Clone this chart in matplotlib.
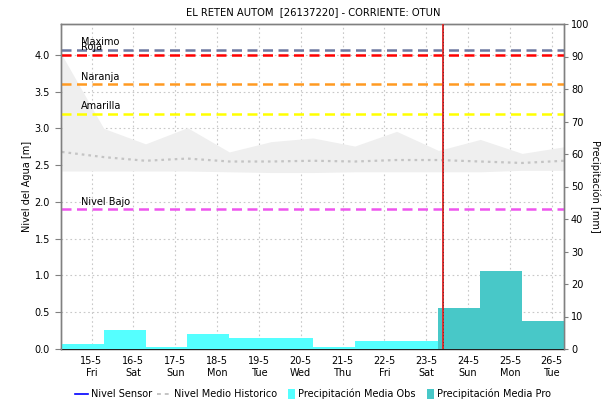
import datetime as dt
import matplotlib
matplotlib.use('Agg')
import matplotlib.pyplot as plt
import matplotlib.transforms as mtransforms
from matplotlib.lines import Line2D
from matplotlib.patches import Patch, Rectangle
from matplotlib.legend_handler import HandlerPatch

# daily values, each one taken at 07:00 of the date
hist_days = ["2020-05-14", "2020-05-15", "2020-05-16", "2020-05-17", "2020-05-18",
             "2020-05-19", "2020-05-20", "2020-05-21", "2020-05-22", "2020-05-23",
             "2020-05-24", "2020-05-25", "2020-05-26"]
hist_max = [4.00, 3.00, 2.79, 3.01, 2.68, 2.82, 2.87, 2.76, 2.96, 2.70, 2.85, 2.66, 2.75]
hist_min = [2.42, 2.42, 2.42, 2.42, 2.41, 2.40, 2.40, 2.41, 2.41, 2.41, 2.41, 2.43, 2.43]
hist_mean = [2.68, 2.61, 2.56, 2.59, 2.55, 2.55, 2.56, 2.55, 2.57, 2.57, 2.55, 2.53, 2.56]

# precipitation (mm), one bar per day from 07:00 to 07:00
obs_days = ["2020-05-13", "2020-05-14", "2020-05-15", "2020-05-16", "2020-05-17",
            "2020-05-18", "2020-05-19", "2020-05-20", "2020-05-21", "2020-05-22"]
obs_mm = [5.5, 1.5, 5.9, 0.7, 4.6, 3.5, 3.5, 0.6, 2.5, 2.5]
pro_days = ["2020-05-23", "2020-05-24", "2020-05-25"]
pro_mm = [12.7, 24.1, 8.7]

# alert levels (m)
level_names = ["Maximo", "Roja", "Naranja", "Amarilla", "Nivel Bajo"]
level_values = [4.07, 4.00, 3.60, 3.20, 1.90]
level_colors = ["#6d78a0", "#ff0000", "#ff9a22", "#ffff00", "#ee55ee"]

tick_days = ["2020-05-%02d" % d for d in range(15, 27)]
now_time = "2020-05-23 09:30"


def at7(day):
    return dt.datetime.strptime(day, "%Y-%m-%d") + dt.timedelta(hours=7)


def small_box(legend, orig_handle, xdescent, ydescent, width, height, fontsize):
    h = height * 1.5
    return Rectangle((width - h * 0.7, -ydescent - (h - height) / 2), h * 0.7, h)


hx = [at7(d) for d in hist_days]

fig = plt.figure(figsize=(6.16, 4.04), dpi=100)
ax = fig.add_axes([61 / 616, 55 / 404, 503 / 616, 325 / 404])
ax2 = ax.twinx()

ax.fill_between(hx, hist_min, hist_max, color="#efefef", lw=0, zorder=1)
ax.plot(hx, hist_mean, color="#c4c4c4", lw=1.6, ls=(0, (1.2, 1.8)), zorder=2)

lbl_off = mtransforms.offset_copy(ax.get_yaxis_transform(), fig=fig, x=0, y=2.5, units="dots")
for name, val, col in zip(level_names, level_values, level_colors):
    ax.axhline(val, color=col, lw=1.8, ls=(0, (4, 2.2)), zorder=3)
    ax.text(0.04, val, name, transform=lbl_off, fontsize=7, va="bottom", ha="left", zorder=4)

ax2.bar([at7(d) for d in obs_days], obs_mm, width=1.0, align="edge",
        color="#55ffff", lw=0, zorder=2)
ax2.bar([at7(d) for d in pro_days], pro_mm, width=1.0, align="edge",
        color="#48c8c8", lw=0, zorder=2)

now = dt.datetime.strptime(now_time, "%Y-%m-%d %H:%M")
ax2.axvline(now, color="#e03030", lw=1.4, zorder=5)
ax2.axvline(now, color="#333333", lw=0.6, ls=(0, (1, 3)), zorder=6)

ax.set_xlim(dt.datetime(2020, 5, 14, 6, 30), dt.datetime(2020, 5, 26, 7, 0))
ax.set_ylim(0, 4.42)
ax2.set_ylim(0, 100)

ticks = [dt.datetime.strptime(d, "%Y-%m-%d") for d in tick_days]
ax.set_xticks(ticks)
ax.set_xticklabels([t.strftime("%-d-%-m") + "\n" + t.strftime("%a") for t in ticks],
                   fontsize=7, linespacing=1.25)
ax.set_yticks([0.0, 0.5, 1.0, 1.5, 2.0, 2.5, 3.0, 3.5, 4.0])
ax.set_yticklabels(["%.1f" % v for v in ax.get_yticks()], fontsize=7)
ax2.set_yticks(range(0, 101, 10))
ax2.set_yticklabels([str(v) for v in range(0, 101, 10)], fontsize=7)

ax.grid(True, color="#c8c8c8", ls=(0, (1.5, 2.5)), lw=0.8)
ax.set_axisbelow(True)
ax.tick_params(axis="x", length=0, pad=5)
ax.tick_params(axis="y", length=4, width=0.8, color="#808080", pad=4)
ax2.tick_params(axis="y", length=3, width=0.8, color="#808080", pad=2)

for a in (ax, ax2):
    for s in a.spines.values():
        s.set_color("#808080")
        s.set_linewidth(1.0)
ax.spines["bottom"].set_color("#222222")
ax.spines["bottom"].set_linestyle((0, (1, 1)))
ax2.spines["bottom"].set_visible(False)

ax.set_ylabel("Nivel del Agua [m]", fontsize=7, va="center")
ax.yaxis.set_label_coords((27 - 61) / 503, 0.5)
ax2.set_ylabel("Precipitación [mm]", fontsize=7, rotation=270, va="center")
ax2.yaxis.set_label_coords((595 - 61) / 503, 0.5)
fig.text(313 / 616, 1 - 12 / 404, "EL RETEN AUTOM  [26137220] - CORRIENTE: OTUN",
         ha="center", va="center", fontsize=7.2)

handles = [
    Line2D([], [], color="#0000ff", lw=1.2),
    Line2D([], [], color="#c4c4c4", lw=1.4, ls=(0, (2, 2))),
    Patch(facecolor="#55ffff", edgecolor="none"),
    Patch(facecolor="#48c8c8", edgecolor="none"),
]
labels = ["Nivel Sensor", "Nivel Medio Historico", "Precipitación Media Obs",
          "Precipitación Media Pro"]
fig.legend(handles, labels, loc="center", bbox_to_anchor=(313 / 616, 1 - 394 / 404), ncol=4,
           frameon=False, fontsize=7, handlelength=1.4, handletextpad=0.3,
           columnspacing=0.5,
           handler_map={Patch: HandlerPatch(patch_func=small_box)})

fig.savefig("out.png", dpi=100)
